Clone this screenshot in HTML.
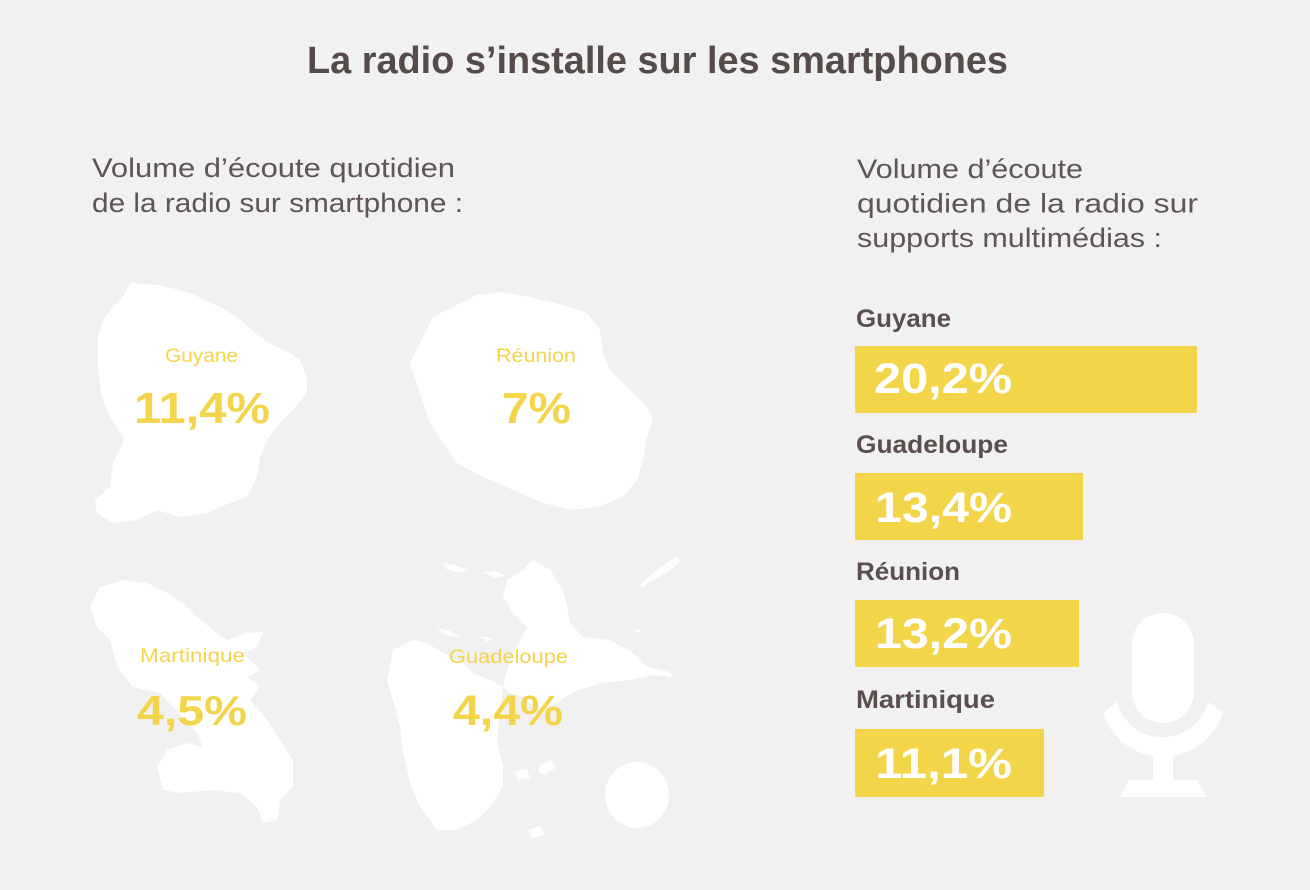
<!DOCTYPE html>
<html>
<head>
<meta charset="utf-8">
<style>
  html,body{margin:0;padding:0;background:#f1f1f1;}
  svg{display:block;}
  text{font-family:"Liberation Sans",sans-serif;}
</style>
</head>
<body>
<svg width="1310" height="890" viewBox="0 0 1310 890" xmlns="http://www.w3.org/2000/svg">
  <rect x="0" y="0" width="1310" height="890" fill="#f1f1f1"/>

  <!-- Title -->
  <text x="307" y="73" font-size="38" font-weight="bold" fill="#554b4a" textLength="701" lengthAdjust="spacingAndGlyphs">La radio s’installe sur les smartphones</text>

  <!-- Left subtitle -->
  <text x="92" y="177" font-size="27" fill="#5f5554" textLength="363" lengthAdjust="spacingAndGlyphs">Volume d’écoute quotidien</text>
  <text x="92" y="212" font-size="27" fill="#5f5554" textLength="371" lengthAdjust="spacingAndGlyphs">de la radio sur smartphone :</text>

  <!-- Right subtitle -->
  <text x="857" y="178" font-size="27" fill="#5f5554" textLength="226" lengthAdjust="spacingAndGlyphs">Volume d’écoute</text>
  <text x="857" y="212.5" font-size="27" fill="#5f5554" textLength="341" lengthAdjust="spacingAndGlyphs">quotidien de la radio sur</text>
  <text x="857" y="247" font-size="27" fill="#5f5554" textLength="305" lengthAdjust="spacingAndGlyphs">supports multimédias :</text>

  <!-- Maps -->
  <g fill="#ffffff">
    <!-- Guyane -->
    <polygon points="130,283 160,285 190,293 220,307 237,317 260,337 277,347 290,353 300,360 307,377 307,393 293,410 280,423 267,440 260,457 257,477 247,497 230,503 207,513 180,517 157,510 137,520 113,523 97,513 95,500 110,487 113,463 123,443 123,437 110,417 102,397 98,370 98,337 103,320 113,307 123,297"/>
    <!-- Réunion -->
    <polygon points="477,295 503,292 533,298 563,305 587,313 600,330 603,353 610,370 630,390 647,407 653,420 647,437 643,460 637,480 623,497 597,507 570,510 543,503 513,490 483,477 457,463 443,443 430,423 420,393 410,363 420,343 433,317 453,307"/>
    <!-- Martinique -->
    <polygon points="100,587 123,580 147,583 167,593 183,603 197,617 213,630 227,640 247,633 263,632 257,647 243,653 260,670 247,677 260,687 250,700 267,720 280,740 293,760 293,787 280,800 277,820 263,823 257,807 240,793 213,790 180,793 163,790 157,767 167,750 187,743 203,747 197,733 183,717 160,693 133,687 117,667 110,640 97,627 90,607"/>
    <!-- Guadeloupe: Basse-Terre -->
    <polygon points="393,650 413,640 427,643 443,653 463,663 473,673 490,680 503,687 500,713 497,740 503,767 503,787 490,807 477,820 457,830 437,830 420,807 410,783 403,753 400,727 393,700 387,680"/>
    <!-- Guadeloupe: Grande-Terre -->
    <polygon points="503,687 510,660 520,640 527,627 513,613 503,597 507,580 523,570 533,560 550,570 563,590 567,607 570,623 583,637 610,640 633,653 647,667 670,672 673,677 653,675 630,680 603,683 577,690 557,703 540,710 523,697 510,693"/>
    <!-- Marie-Galante -->
    <ellipse cx="637" cy="795" rx="32" ry="33"/>
    <!-- La Désirade -->
    <polygon points="640,585 650,575 668,562 677,556 680,562 668,572 650,582 642,588"/>
    <!-- Small islets -->
    <polygon points="443,563 455,565 468,570 460,573 446,569"/>
    <polygon points="483,572 497,571 505,576 495,578"/>
    <polygon points="436,628 450,631 460,637 448,636"/>
    <polygon points="478,636 492,638 488,642"/>
    <polygon points="634,629 642,630 638,633"/>
    <polygon points="515,772 527,769 530,778 518,780"/>
    <polygon points="540,765 552,760 555,768 545,775 538,772"/>
    <polygon points="528,830 540,826 545,835 532,838"/>
  </g>

  <!-- Map labels -->
  <g fill="#f3d44b">
    <text x="165" y="362" font-size="19" textLength="73" lengthAdjust="spacingAndGlyphs">Guyane</text>
    <text x="134" y="423" font-size="44" font-weight="bold" textLength="136" lengthAdjust="spacingAndGlyphs">11,4%</text>

    <text x="496" y="362" font-size="19" textLength="80" lengthAdjust="spacingAndGlyphs">Réunion</text>
    <text x="502" y="423" font-size="44" font-weight="bold" textLength="69" lengthAdjust="spacingAndGlyphs">7%</text>

    <text x="140" y="662" font-size="19" textLength="105" lengthAdjust="spacingAndGlyphs">Martinique</text>
    <text x="137" y="725" font-size="42" font-weight="bold" textLength="110" lengthAdjust="spacingAndGlyphs">4,5%</text>

    <text x="449" y="663" font-size="19" textLength="119" lengthAdjust="spacingAndGlyphs">Guadeloupe</text>
    <text x="453" y="725" font-size="43" font-weight="bold" textLength="110" lengthAdjust="spacingAndGlyphs">4,4%</text>
  </g>

  <!-- Bar labels -->
  <g fill="#5a4f4e" font-weight="bold" font-size="25">
    <text x="856" y="327" textLength="95" lengthAdjust="spacingAndGlyphs">Guyane</text>
    <text x="856" y="453" textLength="152" lengthAdjust="spacingAndGlyphs">Guadeloupe</text>
    <text x="856" y="580" textLength="104" lengthAdjust="spacingAndGlyphs">Réunion</text>
    <text x="856" y="708" textLength="139" lengthAdjust="spacingAndGlyphs">Martinique</text>
  </g>

  <!-- Bars -->
  <g fill="#f3d54a">
    <rect x="855" y="346" width="342" height="67"/>
    <rect x="855" y="473" width="228" height="67"/>
    <rect x="855" y="600" width="224" height="67"/>
    <rect x="855" y="729" width="189" height="68"/>
  </g>
  <g fill="#ffffff" font-weight="bold" font-size="43">
    <text x="874" y="393" textLength="138" lengthAdjust="spacingAndGlyphs">20,2%</text>
    <text x="875" y="522" textLength="137" lengthAdjust="spacingAndGlyphs">13,4%</text>
    <text x="875" y="648" textLength="137" lengthAdjust="spacingAndGlyphs">13,2%</text>
    <text x="875" y="778" textLength="137" lengthAdjust="spacingAndGlyphs">11,1%</text>
  </g>

  <!-- Microphone -->
  <g fill="#ffffff">
    <rect x="1132" y="613" width="62" height="110" rx="31" ry="31"/>
    <path d="M1103 713 A63 63 0 0 0 1223 713 L1208 702 A47 47 0 0 1 1117 702 Z"/>
    <rect x="1153" y="750" width="20" height="32"/>
    <polygon points="1129,780 1197,780 1207,797 1120,797"/>
  </g>
</svg>
</body>
</html>
